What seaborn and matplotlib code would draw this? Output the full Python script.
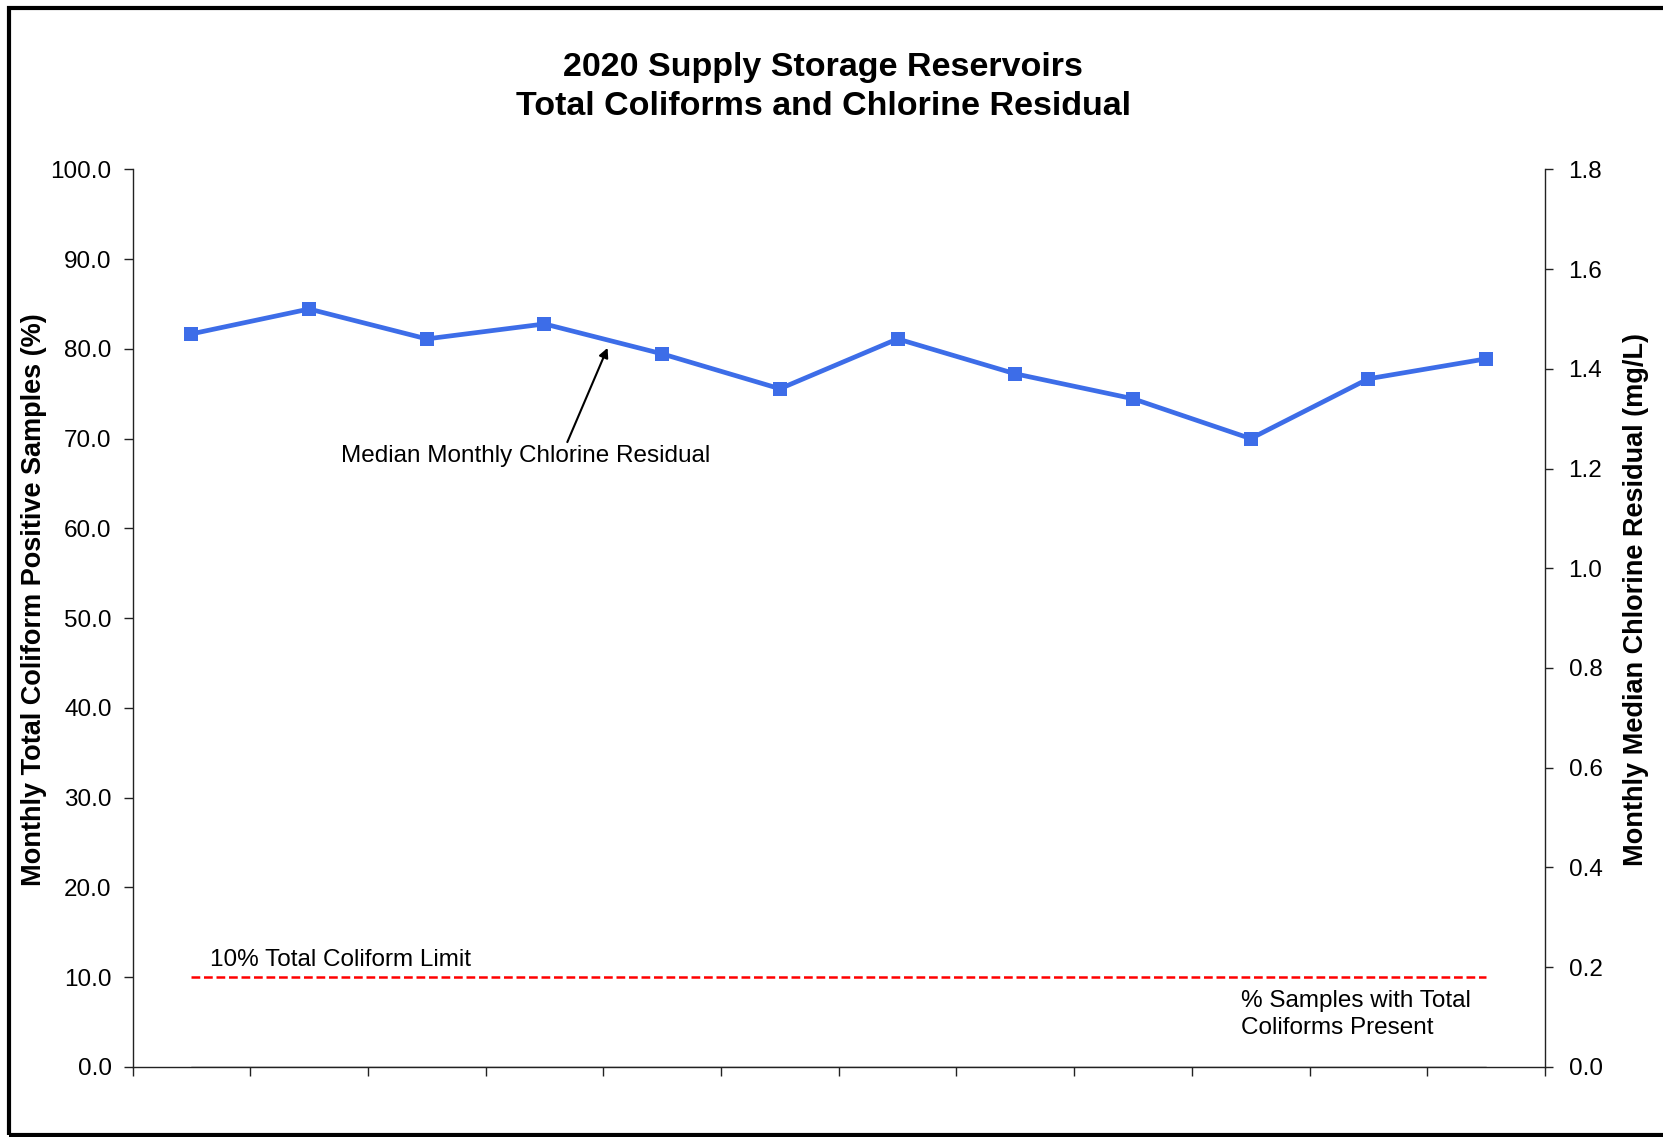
import numpy as np
import pandas as pd
import matplotlib
matplotlib.use("Agg")
import matplotlib.pyplot as plt
import seaborn as sns
from matplotlib.patches import Rectangle

# ---- data ----
months = ["Jan", "Feb", "Mar", "Apr", "May", "Jun", "Jul", "Aug", "Sep", "Oct", "Nov", "Dec"]
chlorine_median = [1.47, 1.52, 1.46, 1.49, 1.43, 1.36, 1.46, 1.39, 1.34, 1.26, 1.38, 1.42]
coliform_pct = [0.0, 0.0, 0.0, 0.0, 0.0, 0.0, 0.0, 0.0, 0.0, 0.0, 0.0, 0.0]
coliform_limit = 10.0
left_ticks = [0, 10, 20, 30, 40, 50, 60, 70, 80, 90, 100]
right_ticks = [0.0, 0.2, 0.4, 0.6, 0.8, 1.0, 1.2, 1.4, 1.6, 1.8]

title = "2020 Supply Storage Reservoirs\nTotal Coliforms and Chlorine Residual"
left_label = "Monthly Total Coliform Positive Samples (%)"
right_label = "Monthly Median Chlorine Residual (mg/L)"

sns.set_style("white")
plt.rcParams["font.family"] = ["Liberation Sans", "DejaVu Sans"]
plt.rcParams["text.color"] = "black"
plt.rcParams["axes.labelcolor"] = "black"
plt.rcParams["xtick.color"] = "black"
plt.rcParams["ytick.color"] = "black"

pos = np.arange(len(months)) + 0.5
df = pd.DataFrame({"pos": pos, "month": months, "chlorine": chlorine_median,
                   "coliform": coliform_pct, "limit": [coliform_limit] * len(months)})

fig = plt.figure(figsize=(16.63, 11.37), dpi=100)
ax = fig.add_axes([0.0797, 0.0618, 0.8493, 0.7892])
ax2 = ax.twinx()

# coliform series (all zero) on left axis
sns.lineplot(data=df, x="pos", y="coliform", ax=ax, color="#222222", lw=1.0, legend=False)
# limit line
sns.lineplot(data=df, x="pos", y="limit", ax=ax, color="#FF0000", lw=1.8,
             dashes=False, legend=False)
ax.lines[-1].set_dashes([3.5, 1.5])

# chlorine on right axis
sns.lineplot(data=df, x="pos", y="chlorine", ax=ax2, color="#3D6DE8", lw=3.4,
             marker="s", markersize=10.5, markeredgewidth=0, legend=False)

ax.set_xlim(0, 12)
ax.set_ylim(0, 100)
ax2.set_ylim(0, 1.8)
ax.set_xticks(np.arange(0, 13))
ax.set_xticklabels([])
ax.set_yticks(left_ticks)
ax.set_yticklabels([f"{v:.1f}" for v in left_ticks], fontsize=17.5)
ax2.set_yticks(right_ticks)
ax2.set_yticklabels([f"{v:.1f}" for v in right_ticks], fontsize=17.5)
ax.set_xlabel("")
ax.set_ylabel("")
ax2.set_ylabel("")

for a in (ax, ax2):
    a.spines["top"].set_visible(False)
    for s in ("left", "right", "bottom"):
        a.spines[s].set_color("#222222")
        a.spines[s].set_linewidth(1.0)
ax.spines["right"].set_visible(False)
ax2.spines["left"].set_visible(False)
ax2.spines["bottom"].set_visible(False)

ax.tick_params(axis="y", direction="out", length=6.5, width=1, color="#222222", pad=8.5)
ax.tick_params(axis="x", direction="out", length=6.5, width=1, color="#222222", bottom=True)
ax2.tick_params(axis="y", direction="out", length=5.5, width=1, color="#222222", pad=11.5, right=True)

# axis labels
fig.text(0.0205, 0.473, left_label, rotation=90, ha="center", va="center",
         fontsize=19.5, fontweight="bold")
fig.text(0.984, 0.473, right_label, rotation=90, ha="center", va="center",
         fontsize=19.5, fontweight="bold")

# title
fig.text(0.4950, 0.9235, title, ha="center", va="center", fontsize=24.5,
         fontweight="bold", linespacing=1.3)

# annotations
ax2.annotate("", xy=(4.036, 1.442), xytext=(3.694, 1.253),
             arrowprops=dict(arrowstyle="-|>", color="black", lw=1.5, mutation_scale=14,
                             shrinkA=0, shrinkB=0))
ax2.text(3.343, 1.225, "Median Monthly Chlorine Residual", ha="center", va="center",
         fontsize=17.5)
ax.text(0.66, 11.9, "10% Total Coliform Limit", ha="left", va="center", fontsize=17.5)
ax.text(9.42, 5.85, "% Samples with Total\nColiforms Present", ha="left", va="center",
        fontsize=17.5, linespacing=1.3)

# outer frame
fig.patches.append(Rectangle((0.0055, 0.0015), 1.1, 0.9915, transform=fig.transFigure,
                             fill=False, edgecolor="black", lw=3.0, zorder=10))

fig.savefig("out.png", dpi=100, facecolor="white")
